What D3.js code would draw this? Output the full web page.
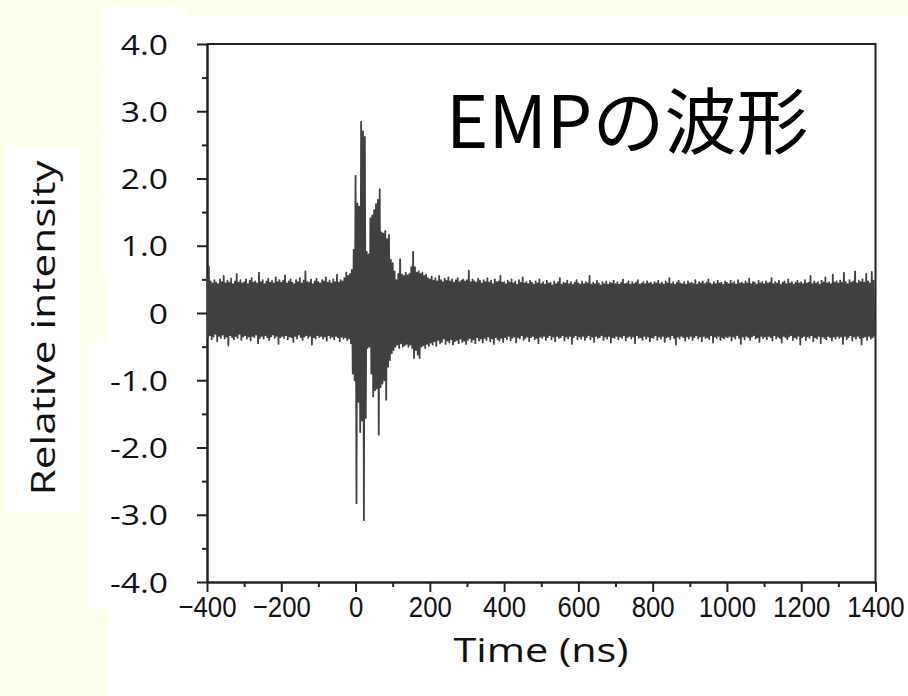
<!DOCTYPE html>
<meta charset="utf-8">
<style>
  body { margin: 0; background: #fefeec; }
  svg { display: block; }
</style>
<body>
<script src="https://cdn.jsdelivr.net/npm/d3@7"></script>
<script>

    // 波形データ: 5 ns 毎の山(upper)と谷(lower)、谷は +2.5 ns に置く
    var tStart = -400, tStep = 5;

    var upper = [
        0.52,0.69,0.47,0.44,0.49,0.45,0.43,0.50,0.46,0.55,0.44,0.48,0.45,0.51,0.43,0.47,0.58,0.45,0.49,0.44,
        0.46,0.50,0.43,0.48,0.52,0.45,0.47,0.44,0.60,0.46,0.49,0.43,0.47,0.51,0.45,0.48,0.44,0.53,0.46,0.49,
        0.45,0.48,0.56,0.44,0.47,0.50,0.45,0.43,0.49,0.46,0.52,0.44,0.48,0.62,0.46,0.45,0.50,0.43,0.47,0.51,
        0.46,0.44,0.49,0.47,0.53,0.45,0.48,0.44,0.50,0.46,0.57,0.45,0.49,0.47,0.52,0.60,0.55,0.58,0.64,0.94,
        2.04,1.63,1.58,2.84,2.70,2.62,0.91,0.87,1.41,1.45,1.53,1.62,1.68,1.84,1.20,1.18,1.22,1.10,1.16,0.79,
        0.74,0.62,0.49,0.58,0.80,0.57,0.55,0.60,0.56,0.58,0.68,0.91,0.68,0.60,0.62,0.58,0.60,0.55,0.57,0.52,
        0.50,0.54,0.48,0.52,0.47,0.55,0.49,0.46,0.51,0.48,0.53,0.47,0.50,0.45,0.49,0.52,0.46,0.48,0.50,0.47,
        0.49,0.63,0.46,0.50,0.47,0.45,0.51,0.48,0.44,0.49,0.46,0.52,0.45,0.48,0.43,0.50,0.46,0.47,0.55,0.45,
        0.46,0.43,0.48,0.45,0.50,0.44,0.47,0.42,0.49,0.45,0.53,0.44,0.46,0.43,0.48,0.45,0.42,0.47,0.44,0.50,
        0.43,0.46,0.42,0.48,0.44,0.45,0.41,0.47,0.43,0.46,0.52,0.42,0.45,0.44,0.48,0.43,0.46,0.42,0.45,0.49,
        0.44,0.42,0.47,0.43,0.46,0.44,0.55,0.42,0.45,0.43,0.48,0.44,0.41,0.46,0.43,0.47,0.42,0.45,0.44,0.48,
        0.43,0.46,0.42,0.45,0.50,0.43,0.44,0.47,0.42,0.46,0.43,0.45,0.49,0.42,0.44,0.46,0.43,0.47,0.44,0.45,
        0.42,0.46,0.44,0.48,0.43,0.45,0.42,0.47,0.44,0.52,0.43,0.46,0.42,0.45,0.48,0.44,0.43,0.46,0.42,0.47,
        0.44,0.45,0.43,0.49,0.42,0.46,0.44,0.47,0.43,0.45,0.50,0.44,0.42,0.46,0.43,0.48,0.44,0.45,0.42,0.47,
        0.45,0.43,0.48,0.44,0.46,0.42,0.49,0.44,0.45,0.43,0.47,0.44,0.51,0.43,0.46,0.45,0.42,0.48,0.44,0.46,
        0.43,0.47,0.44,0.45,0.52,0.43,0.46,0.44,0.48,0.42,0.45,0.47,0.43,0.50,0.44,0.46,0.42,0.45,0.48,0.44,
        0.46,0.43,0.49,0.44,0.45,0.55,0.43,0.47,0.44,0.46,0.42,0.48,0.45,0.53,0.44,0.46,0.43,0.57,0.45,0.47,
        0.44,0.48,0.45,0.60,0.46,0.43,0.49,0.45,0.47,0.62,0.44,0.48,0.46,0.50,0.45,0.58,0.47,0.44,0.61,0.48
    ];

    var lower = [
        -0.36,-0.33,-0.39,-0.35,-0.31,-0.42,-0.34,-0.37,-0.32,-0.38,-0.35,-0.48,-0.33,-0.36,-0.39,-0.34,-0.37,-0.31,-0.40,-0.35,
        -0.33,-0.38,-0.35,-0.41,-0.34,-0.36,-0.32,-0.45,-0.37,-0.34,-0.38,-0.33,-0.36,-0.40,-0.35,-0.32,-0.37,-0.34,-0.46,-0.36,
        -0.34,-0.37,-0.33,-0.39,-0.35,-0.36,-0.43,-0.34,-0.38,-0.32,-0.36,-0.40,-0.35,-0.33,-0.37,-0.34,-0.47,-0.36,-0.38,-0.33,
        -0.36,-0.34,-0.38,-0.35,-0.41,-0.33,-0.37,-0.35,-0.39,-0.34,-0.36,-0.42,-0.35,-0.38,-0.36,-0.40,-0.38,-0.45,-0.90,-1.00,
        -2.83,-1.32,-1.77,-1.60,-3.08,-1.56,-0.52,-0.50,-0.90,-1.24,-1.15,-1.12,-1.81,-1.10,-1.05,-1.00,-1.29,-0.80,-0.70,-0.60,
        -0.55,-0.50,-0.47,-0.52,-0.45,-0.50,-0.48,-0.46,-0.50,-0.47,-0.52,-0.67,-0.55,-0.62,-0.67,-0.50,-0.48,-0.52,-0.46,-0.49,
        -0.44,-0.47,-0.42,-0.49,-0.40,-0.45,-0.43,-0.38,-0.46,-0.41,-0.44,-0.39,-0.47,-0.42,-0.40,-0.45,-0.38,-0.43,-0.41,-0.46,
        -0.40,-0.37,-0.43,-0.39,-0.45,-0.36,-0.41,-0.38,-0.44,-0.37,-0.40,-0.35,-0.42,-0.38,-0.46,-0.36,-0.39,-0.41,-0.37,-0.43,
        -0.36,-0.39,-0.34,-0.41,-0.37,-0.35,-0.44,-0.36,-0.38,-0.33,-0.40,-0.37,-0.35,-0.42,-0.36,-0.34,-0.39,-0.37,-0.45,-0.35,
        -0.37,-0.34,-0.40,-0.36,-0.33,-0.39,-0.35,-0.42,-0.34,-0.37,-0.36,-0.33,-0.41,-0.35,-0.38,-0.34,-0.46,-0.36,-0.33,-0.39,
        -0.35,-0.38,-0.34,-0.40,-0.36,-0.33,-0.39,-0.35,-0.43,-0.34,-0.37,-0.36,-0.33,-0.40,-0.35,-0.38,-0.34,-0.44,-0.36,-0.37,
        -0.34,-0.39,-0.35,-0.37,-0.33,-0.41,-0.36,-0.34,-0.38,-0.35,-0.45,-0.33,-0.37,-0.36,-0.40,-0.34,-0.38,-0.35,-0.42,-0.36,
        -0.37,-0.33,-0.40,-0.35,-0.38,-0.34,-0.43,-0.36,-0.35,-0.39,-0.33,-0.37,-0.47,-0.35,-0.38,-0.34,-0.36,-0.41,-0.35,-0.38,
        -0.34,-0.40,-0.36,-0.33,-0.38,-0.35,-0.42,-0.34,-0.37,-0.36,-0.39,-0.33,-0.44,-0.35,-0.37,-0.34,-0.40,-0.36,-0.38,-0.35,
        -0.36,-0.34,-0.41,-0.35,-0.38,-0.33,-0.37,-0.46,-0.35,-0.39,-0.34,-0.36,-0.40,-0.35,-0.33,-0.38,-0.36,-0.43,-0.34,-0.37,
        -0.35,-0.39,-0.34,-0.36,-0.41,-0.33,-0.38,-0.35,-0.37,-0.44,-0.34,-0.36,-0.39,-0.35,-0.33,-0.40,-0.36,-0.38,-0.34,-0.47,
        -0.36,-0.34,-0.40,-0.35,-0.37,-0.33,-0.42,-0.36,-0.38,-0.34,-0.45,-0.35,-0.37,-0.39,-0.34,-0.36,-0.41,-0.35,-0.38,-0.34,
        -0.37,-0.35,-0.46,-0.34,-0.39,-0.36,-0.33,-0.41,-0.35,-0.38,-0.34,-0.37,-0.47,-0.36,-0.35,-0.40,-0.34,-0.38,-0.36,-0.35
    ];

    var xTicks = [-400, -200, 0, 200, 400, 600, 800, 1000, 1200, 1400];
    var xMinor = [-300, -100, 100, 300, 500, 700, 900, 1100, 1300];
    var yTicks = [-4, -3, -2, -1, 0, 1, 2, 3, 4];
    var yMinor = [-3.5, -2.5, -1.5, -0.5, 0.5, 1.5, 2.5, 3.5];

    var titleText = "EMPの波形",
        xLabel = "Time (ns)",
        yLabel = "Relative intensity";

    var width = 908,
        height = 696;
    var plotL = 207, plotR = 875.5, plotT = 44, plotB = 582;

    var svg = d3.select("body").append("svg")
            .attr("width", width)
            .attr("height", height);

    var x = d3.scaleLinear().domain([-400, 1400]).range([plotL, plotR]);
    var y = d3.scaleLinear().domain([-4, 4]).range([plotB, plotT]);

    // 背景(黄色)と白い貼り紙
    svg.append("rect").attr("width", width).attr("height", height).attr("fill", "#fefeec");
    var paper = svg.append("g").attr("fill", "#fff");
    paper.append("rect").attr("x", 186).attr("y", 17).attr("width", width - 186).attr("height", height - 17);
    paper.append("rect").attr("x", 108).attr("y", 607).attr("width", 80).attr("height", height - 607);
    paper.append("rect").attr("x", 4).attr("y", 147).attr("width", 75).attr("height", 365);

    var uiFont = "'Open Sans', 'Noto Sans', sans-serif";

    // 縦軸
    var yAxis = svg.append("g")
            .attr("transform", "translate(" + plotL + ",0)")
            .call(d3.axisLeft(y).tickValues(yTicks).tickSize(10).tickSizeOuter(0)
                .tickFormat(function(d) { return d === 0 ? "0" : d.toFixed(1); }));
    svg.append("g")
            .attr("transform", "translate(" + plotL + ",0)")
            .call(d3.axisLeft(y).tickValues(yMinor).tickSize(5).tickSizeOuter(0).tickFormat(""));

    // 目盛ラベルの白い箱 (元の貼り紙の位置)
    yAxis.selectAll(".tick").insert("rect", ":first-child")
            .attr("x", function(d) { return (d < 0 ? 88 : d === 0 ? 107 : 102) - plotL; })
            .attr("y", -38)
            .attr("width", function(d) { return 186 - (d < 0 ? 88 : d === 0 ? 107 : 102); })
            .attr("height", 66)
            .attr("fill", "#fff");

    yAxis.selectAll("text")
            .attr("font-family", uiFont)
            .attr("font-size", 28)
            .attr("fill", "#111")
            .attr("x", -39 / 1.2)
            .attr("dy", "0.36em")
            .attr("transform", "scale(1.2,1)");

    // 横軸
    var xAxis = svg.append("g")
            .attr("transform", "translate(0," + plotB + ")")
            .call(d3.axisBottom(x).tickValues(xTicks).tickSize(10).tickSizeOuter(0)
                .tickFormat(d3.format("d")));
    svg.append("g")
            .attr("transform", "translate(0," + plotB + ")")
            .call(d3.axisBottom(x).tickValues(xMinor).tickSize(5).tickSizeOuter(0).tickFormat(""));

    xAxis.selectAll("text")
            .attr("font-family", "'Liberation Sans', Arial, sans-serif")
            .attr("font-size", 30)
            .attr("fill", "#111")
            .attr("y", 24)
            .attr("dy", "0.36em")
            .attr("transform", "scale(0.86,1)");

    svg.selectAll(".domain, .tick line")
            .attr("stroke", "#222")
            .attr("stroke-width", 2);

    // 上と右の枠線
    svg.append("path")
            .attr("d", "M" + plotL + "," + plotT + "H" + plotR + "V" + plotB)
            .attr("fill", "none")
            .attr("stroke", "#222")
            .attr("stroke-width", 2);

    // 波形
    var points = [];
    upper.forEach(function(v, i) {
        var t = tStart + i * tStep;
        points.push({t: t, v: v});
        points.push({t: t + tStep / 2, v: lower[i]});
    });

    svg.append("clipPath").attr("id", "plot")
            .append("rect").attr("x", plotL).attr("y", plotT)
            .attr("width", plotR - plotL).attr("height", plotB - plotT);

    var line = d3.line()
            .x(function(d) { return x(d.t); })
            .y(function(d) { return y(d.v); });

    svg.append("path")
            .datum(points)
            .attr("clip-path", "url(#plot)")
            .attr("d", line)
            .attr("fill", "none")
            .attr("stroke", "#404040")
            .attr("stroke-width", 1.8)
            .attr("stroke-linejoin", "round");

    // タイトルと軸ラベル
    svg.append("text")
            .attr("x", 446)
            .attr("y", 148)
            .attr("font-family", "'Noto Sans CJK JP', sans-serif")
            .attr("font-size", 72)
            .attr("fill", "#000")
            .text(titleText);

    svg.append("text")
            .attr("x", 541)
            .attr("y", 662)
            .attr("text-anchor", "middle")
            .attr("font-family", uiFont)
            .attr("font-size", 32)
            .attr("fill", "#111")
            .attr("textLength", 175)
            .attr("lengthAdjust", "spacingAndGlyphs")
            .text(xLabel);

    svg.append("text")
            .attr("transform", "translate(55,328) rotate(-90)")
            .attr("text-anchor", "middle")
            .attr("font-family", uiFont)
            .attr("font-size", 32)
            .attr("fill", "#111")
            .attr("textLength", 335)
            .attr("lengthAdjust", "spacingAndGlyphs")
            .text(yLabel);

</script>
